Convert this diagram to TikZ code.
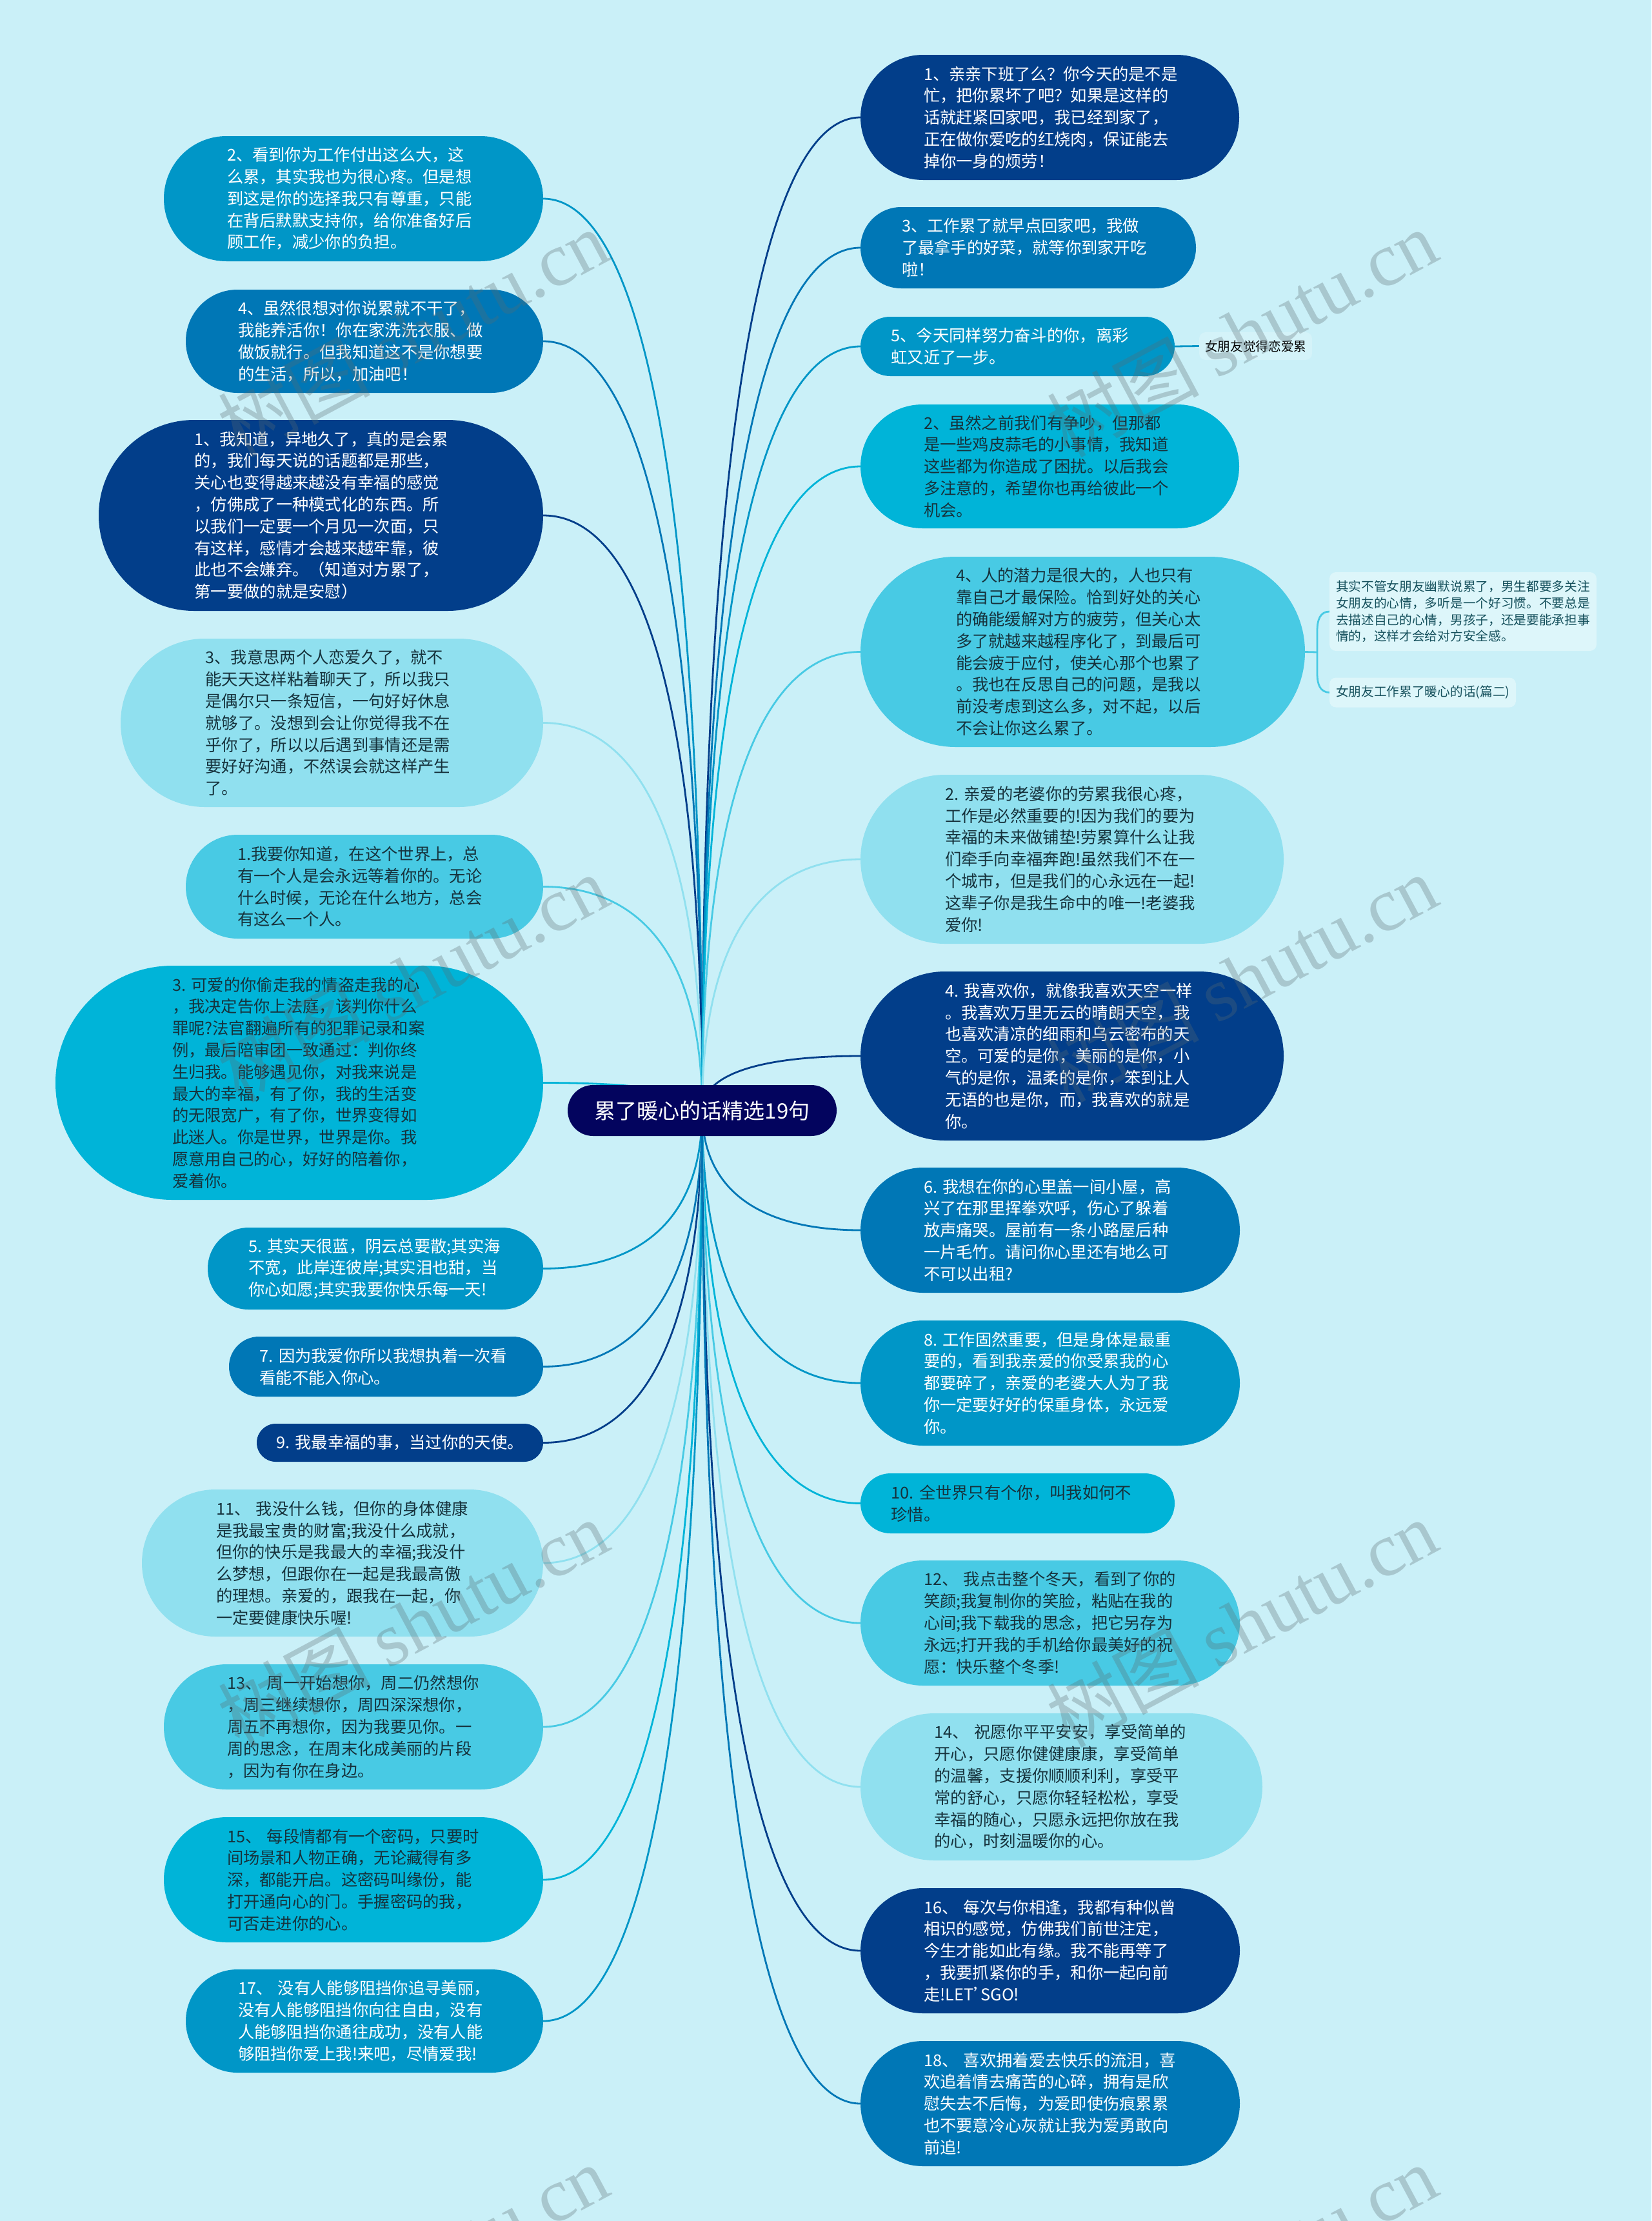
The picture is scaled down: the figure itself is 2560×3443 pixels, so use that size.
\documentclass[tikz,border=0pt]{standalone}
\usepackage{fontspec}
\setmainfont{Noto Sans CJK SC}
\newfontfamily\wmserif{Liberation Serif}
\usetikzlibrary{calc}
\definecolor{cbg}{HTML}{CAF0F8}
\definecolor{croot}{HTML}{03045E}
\definecolor{ca}{HTML}{023E8A}
\definecolor{cb}{HTML}{0077B6}
\definecolor{cc}{HTML}{0096C7}
\definecolor{cd}{HTML}{00B4D8}
\definecolor{ce}{HTML}{48CAE4}
\definecolor{cf}{HTML}{90E0EF}
\definecolor{tdark}{HTML}{16323C}
\definecolor{tsub}{HTML}{15505C}
\definecolor{csub}{HTML}{DDF6FA}
\definecolor{csubb}{HTML}{D4F3F9}
\definecolor{cwm}{HTML}{5A6A70}
\pgfdeclarelayer{under}
\pgfdeclarelayer{over}
\pgfsetlayers{under,main,over}
\tikzset{
  pill/.style={rectangle,inner sep=0pt,outer sep=0pt,align=left,font=\fontsize{25.3}{33.8}\selectfont},
  subbox/.style={rectangle,inner sep=0pt,outer sep=0pt,align=left,fill=csub,rounded corners=10pt,text=tsub,font=\fontsize{19.7}{25.6}\selectfont},
  link/.style={line width=2.8pt},
  wmark/.style={rotate=28.1,text=cwm,text opacity=.3,inner sep=0pt,font=\fontsize{118}{118}\selectfont}
}
% name, x0, y0, x1, y1, fill, text colour, wrap width, text
\newcommand\pillnode[9]{%
  \pgfmathsetmacro\pcx{(#2+#4)/2}%
  \pgfmathsetmacro\pcy{(#3+#5)/2}%
  \pgfmathsetmacro\pw{#4-#2}%
  \pgfmathsetmacro\ph{#5-#3}%
  \pgfmathsetmacro\pr{(#5-#3)/2-0.01}%
  \node[pill,fill=#6,text=#7,minimum width=\pw pt,minimum height=\ph pt,rounded corners=\pr pt,text width=#8pt] (#1) at (\pcx,\pcy) {#9};%
}
\newcommand\lk[2]{\draw[link,#2] (#1) .. controls ($(#1)!.6!(#1 -| root.center)$) and ($(root.center)!.7!(root.center |- #1)$) .. (root.center);}
\begin{document}
\begin{tikzpicture}[x=1pt,y=-1pt]
\useasboundingbox (0,0) rectangle (2560,3443);
\begin{pgfonlayer}{under}
\fill[cbg] (0,0) rectangle (2560,3443);
\end{pgfonlayer}

\node[pill,fill=croot,text=white,minimum width=417pt,minimum height=79pt,rounded corners=39.4pt,font=\fontsize{33}{40}\selectfont] (root) at (1088.5,1721.5) {累了暖心的话精选19句};

% left side
\pillnode{La}{254}{211}{842}{405}{cc}{white}{392}{2、看到你为工作付出这么大，这\\么累，其实我也为很心疼。但是想\\到这是你的选择我只有尊重，只能\\在背后默默支持你，给你准备好后\\顾工作，减少你的负担。}
\pillnode{Lb}{288}{449}{842}{609}{cb}{white}{392}{4、虽然很想对你说累就不干了，\\我能养活你！你在家洗洗衣服、做\\做饭就行。但我知道这不是你想要\\的生活，所以，加油吧！}
\pillnode{Lc}{153}{651}{842}{947}{ca}{white}{392}{1、我知道，异地久了，真的是会累\\的，我们每天说的话题都是那些，\\关心也变得越来越没有幸福的感觉\\，仿佛成了一种模式化的东西。所\\以我们一定要一个月见一次面，只\\有这样，感情才会越来越牢靠，彼\\此也不会嫌弃。（知道对方累了，\\第一要做的就是安慰）}
\pillnode{Ld}{187}{990}{842}{1251}{cf}{tdark}{392}{3、我意思两个人恋爱久了，就不\\能天天这样粘着聊天了，所以我只\\是偶尔只一条短信，一句好好休息\\就够了。没想到会让你觉得我不在\\乎你了，所以以后遇到事情还是需\\要好好沟通，不然误会就这样产生\\了。}
\pillnode{Le}{288}{1294}{842}{1455}{ce}{tdark}{394}{1.我要你知道，在这个世界上，总\\有一个人是会永远等着你的。无论\\什么时候，无论在什么地方，总会\\有这么一个人。}
\pillnode{Lf}{86}{1497}{842}{1860}{cd}{tdark}{394}{3.~可爱的你偷走我的情盗走我的心\\，我决定告你上法庭，该判你什么\\罪呢?法官翻遍所有的犯罪记录和案\\例，最后陪审团一致通过：判你终\\生归我。能够遇见你，对我来说是\\最大的幸福，有了你，我的生活变\\的无限宽广，有了你，世界变得如\\此迷人。你是世界，世界是你。我\\愿意用自己的心，好好的陪着你，\\爱着你。}
\pillnode{Lg}{322}{1903}{842}{2030}{cc}{white}{394}{5.~其实天很蓝，阴云总要散;其实海\\不宽，此岸连彼岸;其实泪也甜，当\\你心如愿;其实我要你快乐每一天!}
\pillnode{Lh}{355}{2072}{842}{2165}{cb}{white}{392}{7.~因为我爱你所以我想执着一次看\\看能不能入你心。}
\pillnode{Li}{398}{2207}{842}{2266}{ca}{white}{384}{9.~我最幸福的事，当过你的天使。}
\pillnode{Lj}{220}{2309}{842}{2537}{cf}{tdark}{392}{11、~我没什么钱，但你的身体健康\\是我最宝贵的财富;我没什么成就，\\但你的快乐是我最大的幸福;我没什\\么梦想，但跟你在一起是我最高傲\\的理想。亲爱的，跟我在一起，你\\一定要健康快乐喔!}
\pillnode{Lk}{254}{2580}{842}{2774}{ce}{tdark}{392}{13、~周一开始想你，周二仍然想你\\，周三继续想你，周四深深想你，\\周五不再想你，因为我要见你。一\\周的思念，在周末化成美丽的片段\\，因为有你在身边。}
\pillnode{Ll}{254}{2817}{842}{3011}{cd}{tdark}{392}{15、~每段情都有一个密码，只要时\\间场景和人物正确，无论藏得有多\\深，都能开启。这密码叫缘份，能\\打开通向心的门。手握密码的我，\\可否走进你的心。}
\pillnode{Lm}{288}{3053}{842}{3213}{cc}{white}{392}{17、~没有人能够阻挡你追寻美丽，\\没有人能够阻挡你向往自由，没有\\人能够阻挡你通往成功，没有人能\\够阻挡你爱上我!来吧，尽情爱我!}

% right side
\pillnode{Ra}{1334}{85}{1921}{279}{ca}{white}{391}{1、亲亲下班了么？你今天的是不是\\忙，把你累坏了吧？如果是这样的\\话就赶紧回家吧，我已经到家了，\\正在做你爱吃的红烧肉，保证能去\\掉你一身的烦劳！}
\pillnode{Rb}{1334}{321}{1854}{447}{cb}{white}{392}{3、工作累了就早点回家吧，我做\\了最拿手的好菜，就等你到家开吃\\啦！}
\pillnode{Rc}{1334}{491}{1821}{583}{cc}{white}{392}{5、今天同样努力奋斗的你，离彩\\虹又近了一步。}
\pillnode{Rd}{1334}{627}{1921}{819}{cd}{tdark}{391}{2、虽然之前我们有争吵，但那都\\是一些鸡皮蒜毛的小事情，我知道\\这些都为你造成了困扰。以后我会\\多注意的，希望你也再给彼此一个\\机会。}
\pillnode{Re}{1334}{863}{2023}{1158}{ce}{tdark}{393}{4、人的潜力是很大的，人也只有\\靠自己才最保险。恰到好处的关心\\的确能缓解对方的疲劳，但关心太\\多了就越来越程序化了，到最后可\\能会疲于应付，使关心那个也累了\\。我也在反思自己的问题，是我以\\前没考虑到这么多，对不起，以后\\不会让你这么累了。}
\pillnode{Rf}{1334}{1201}{1990}{1463}{cf}{tdark}{394}{2.~亲爱的老婆你的劳累我很心疼，\\工作是必然重要的!因为我们的要为\\幸福的未来做铺垫!劳累算什么让我\\们牵手向幸福奔跑!虽然我们不在一\\个城市，但是我们的心永远在一起!\\这辈子你是我生命中的唯一!老婆我\\爱你!}
\pillnode{Rg}{1334}{1506}{1990}{1768}{ca}{white}{394}{4.~我喜欢你，就像我喜欢天空一样\\。我喜欢万里无云的晴朗天空，我\\也喜欢清凉的细雨和乌云密布的天\\空。可爱的是你，美丽的是你，小\\气的是你，温柔的是你，笨到让人\\无语的也是你，而，我喜欢的就是\\你。}
\pillnode{Rh}{1334}{1810}{1922}{2004}{cb}{white}{392}{6.~我想在你的心里盖一间小屋，高\\兴了在那里挥拳欢呼，伤心了躲着\\放声痛哭。屋前有一条小路屋后种\\一片毛竹。请问你心里还有地么可\\不可以出租?}
\pillnode{Ri}{1334}{2047}{1922}{2241}{cc}{white}{392}{8.~工作固然重要，但是身体是最重\\要的，看到我亲爱的你受累我的心\\都要碎了，亲爱的老婆大人为了我\\你一定要好好的保重身体，永远爱\\你。}
\pillnode{Rj}{1334}{2284}{1821}{2377}{cd}{tdark}{392}{10.~全世界只有个你，叫我如何不\\珍惜。}
\pillnode{Rk}{1334}{2419}{1922}{2613}{ce}{tdark}{392}{12、~我点击整个冬天，看到了你的\\笑颜;我复制你的笑脸，粘贴在我的\\心间;我下载我的思念，把它另存为\\永远;打开我的手机给你最美好的祝\\愿：快乐整个冬季!}
\pillnode{Rl}{1334}{2656}{1957}{2884}{cf}{tdark}{394}{14、~祝愿你平平安安，享受简单的\\开心，只愿你健健康康，享受简单\\的温馨，支援你顺顺利利，享受平\\常的舒心，只愿你轻轻松松，享受\\幸福的随心，只愿永远把你放在我\\的心，时刻温暖你的心。}
\pillnode{Rm}{1334}{2927}{1922}{3121}{ca}{white}{392}{16、~每次与你相逢，我都有种似曾\\相识的感觉，仿佛我们前世注定，\\今生才能如此有缘。我不能再等了\\，我要抓紧你的手，和你一起向前\\走!LET’\kern-.55em SGO!}
\pillnode{Rn}{1334}{3164}{1922}{3358}{cb}{white}{392}{18、~喜欢拥着爱去快乐的流泪，喜\\欢追着情去痛苦的心碎，拥有是欣\\慰失去不后悔，为爱即使伤痕累累\\也不要意冷心灰就让我为爱勇敢向\\前追!}

% secondary nodes
\node[subbox,fill=csubb,text=black,minimum width=175pt,minimum height=43pt,text width=157pt] (sc) at (1946.5,536.5) {女朋友觉得恋爱累};
\node[subbox,minimum width=414pt,minimum height=122pt,text width=394pt] (sa) at (2268,948) {其实不管女朋友幽默说累了，男生都要多关注\\女朋友的心情，多听是一个好习惯。不要总是\\去描述自己的心情，男孩子，还是要能承担事\\情的，这样才会给对方安全感。};
\node[subbox,minimum width=289pt,minimum height=46pt,text width=269pt] (sb) at (2205.5,1073.5) {女朋友工作累了暖心的话(篇二)};

\begin{pgfonlayer}{under}
\lk{La.east}{cc}
\lk{Lb.east}{cb}
\lk{Lc.east}{ca}
\lk{Ld.east}{cf}
\lk{Le.east}{ce}
\lk{Lf.east}{cd}
\lk{Lg.east}{cc}
\lk{Lh.east}{cb}
\lk{Li.east}{ca}
\lk{Lj.east}{cf}
\lk{Lk.east}{ce}
\lk{Ll.east}{cd}
\lk{Lm.east}{cc}
\lk{Ra.west}{ca}
\lk{Rb.west}{cb}
\lk{Rc.west}{cc}
\lk{Rd.west}{cd}
\lk{Re.west}{ce}
\lk{Rf.west}{cf}
\lk{Rg.west}{ca}
\lk{Rh.west}{cb}
\lk{Ri.west}{cc}
\lk{Rj.west}{cd}
\lk{Rk.west}{ce}
\lk{Rl.west}{cf}
\lk{Rm.west}{ca}
\lk{Rn.west}{cb}
\draw[link,cc] (Rc.east) -- (sc.west);
\coordinate (br) at (2042,1011);
\coordinate (brA) at (2042,978);
\coordinate (brB) at (2042,1044);
\draw[link,ce] (Re.east) -- (br);
\draw[link,ce] (sa.west) .. controls (2047,948) and (2042,960) .. (brA) -- (brB) .. controls (2042,1062) and (2047,1073) .. (sb.west);
\end{pgfonlayer}

\begin{pgfonlayer}{over}
\foreach \wy [count=\wi] in {516,1516,2516,3516}{
  \node[wmark] (wml\wi) at (640,\wy) {树图 {\wmserif shutu.cn}};
  \node[wmark] (wmr\wi) at (1925,\wy) {树图 {\wmserif shutu.cn}};
}
\end{pgfonlayer}
\end{tikzpicture}
\end{document}
